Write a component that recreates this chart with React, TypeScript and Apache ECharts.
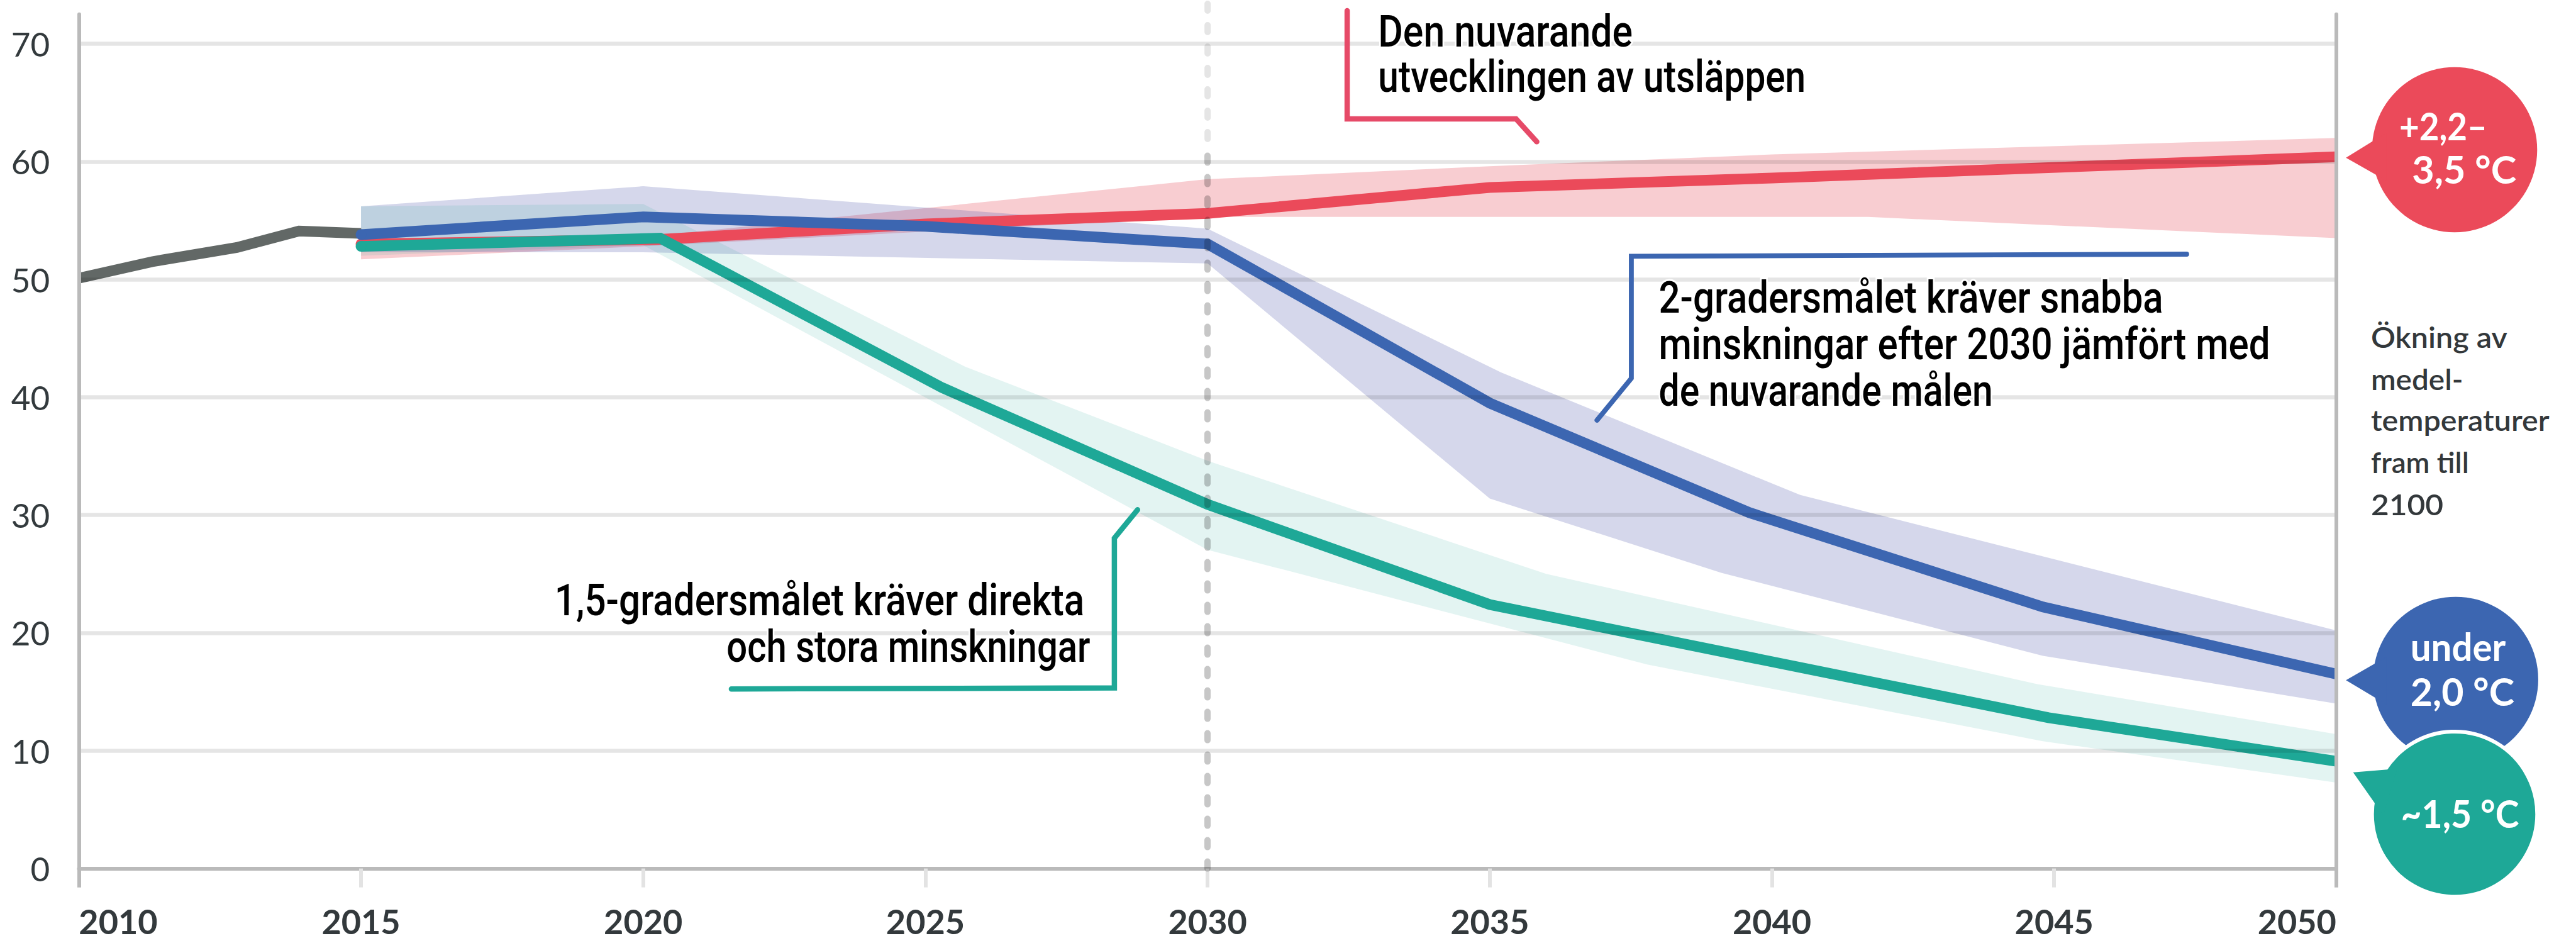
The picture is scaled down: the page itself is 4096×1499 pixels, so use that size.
import React, { useEffect, useRef } from "react";
import * as echarts from "echarts";

// ---------------- DATA ----------------
const histYears = [2010, 2011.3, 2012.8, 2013.9, 2015];
const histValues = [50.1, 51.5, 52.7, 54.1, 53.9];

const currentYears = [2015, 2020.3, 2025, 2030, 2035, 2040, 2050];
const currentValues = [53.0, 53.4, 54.7, 55.6, 57.8, 58.6, 60.4];
const currentUpperYears = [2015, 2020, 2030, 2035, 2040, 2050];
const currentUpperValues = [53.5, 53.6, 58.5, 59.6, 60.6, 62.0];
const currentLowerYears = [2015, 2020, 2030, 2041.7, 2050];
const currentLowerValues = [51.7, 52.8, 55.3, 55.3, 53.5];

const twoYears = [2015, 2020, 2025, 2030, 2035, 2039.6, 2044.8, 2050];
const twoValues = [53.8, 55.3, 54.5, 53.0, 39.5, 30.2, 22.2, 16.5];
const twoUpperYears = [2015, 2020, 2030, 2035.2, 2040.5, 2050];
const twoUpperValues = [56.2, 57.9, 54.3, 42.1, 31.7, 20.2];
const twoLowerYears = [2015, 2020, 2030, 2035, 2039.1, 2044.8, 2050];
const twoLowerValues = [52.3, 52.3, 51.35, 31.4, 25.1, 18.05, 14.0];

const oneFiveYears = [2015, 2020.3, 2025.3, 2030, 2035, 2044.9, 2050];
const oneFiveValues = [52.8, 53.5, 40.8, 30.9, 22.4, 12.8, 9.1];
const oneFiveUpperYears = [2015, 2020, 2025.7, 2030, 2036, 2044.7, 2050];
const oneFiveUpperValues = [56.2, 56.4, 42.6, 34.6, 25.0, 15.65, 11.4];
const oneFiveLowerYears = [2015, 2020, 2030, 2037.8, 2044.8, 2050];
const oneFiveLowerValues = [52.0, 52.9, 27.05, 17.3, 10.8, 7.3];

const yTickValues = [0, 10, 20, 30, 40, 50, 60, 70];
const xTickLabels = ["2010", "2015", "2020", "2025", "2030", "2035", "2040", "2045", "2050"];
const markerYear = 2030;

// ---------------- LAYOUT ----------------
const S = 0.847;
const W = 4096;
const H = 1499;
const Y_MAX = 72.5;
const REF_Y0 = 1630;
const REF_UNIT = (1630 - 82) / 70;

const zip = (xs: number[], ys: number[]) => xs.map((x, i) => [x, ys[i]]);
const sc = (p: number[]) => [p[0] * S, p[1] * S];

const ctx = document.createElement("canvas").getContext("2d")!;
const measure = (t: string, font: string) => {
  ctx.font = font;
  return ctx.measureText(t).width;
};

type TextSpec = { text: string; left: number; baseline: number; width?: number };
type FontSpec = { family: string; weight: string | number; size: number; fill: string; halo?: boolean };

function textEl(t: TextSpec, f: FontSpec) {
  const font = `${f.weight} ${f.size}px ${f.family}`;
  const natural = measure(t.text, font);
  const sx = t.width ? (t.width * S) / natural : 1;
  const off = f.family === "Lato" ? 0.387 : 0.342;
  return {
    type: "text",
    x: t.left * S,
    y: t.baseline * S - off * f.size,
    scaleX: sx,
    z: 100,
    silent: true,
    style: {
      text: t.text,
      fontFamily: f.family,
      fontWeight: f.weight,
      fontSize: f.size,
      fill: f.fill,
      align: "left",
      verticalAlign: "middle",
      stroke: f.halo ? "#ffffff" : undefined,
      lineWidth: f.halo ? 6 : 0,
    },
  };
}

const annFont: FontSpec = { family: "Roboto", weight: 500, size: 70, fill: "#000000", halo: true };
const bubbleFont: FontSpec = { family: "Lato", weight: "bold", size: 62, fill: "#ffffff" };
const sideFont: FontSpec = { family: "Lato", weight: 600, size: 47, fill: "#33383b" };

const annotations: TextSpec[] = [
  { text: "Den nuvarande", left: 2587, baseline: 87, width: 478 },
  { text: "utvecklingen av utsläppen", left: 2587, baseline: 172, width: 803 },
  { text: "2-gradersmålet kräver snabba", left: 3114, baseline: 587.6, width: 947 },
  { text: "minskningar efter 2030 jämfört med", left: 3114, baseline: 674.7, width: 1148 },
  { text: "de nuvarande målen", left: 3114, baseline: 761.8, width: 627 },
  { text: "1,5-gradersmålet kräver direkta", left: 1041, baseline: 1154.4, width: 995 },
  { text: "och stora minskningar", left: 1364, baseline: 1242, width: 683 },
];
const bubbleTexts: TextSpec[] = [
  { text: "+2,2–", left: 4504, baseline: 263, width: 165 },
  { text: "3,5 °C", left: 4528, baseline: 344, width: 196 },
  { text: "under", left: 4525, baseline: 1240.7, width: 179 },
  { text: "2,0 °C", left: 4525, baseline: 1325, width: 195 },
  { text: "~1,5 °C", left: 4507, baseline: 1554, width: 222 },
];
const sideTexts: TextSpec[] = [
  { text: "Ökning av", left: 4451, baseline: 653, width: 256 },
  { text: "medel-", left: 4451, baseline: 732, width: 173 },
  { text: "temperaturer", left: 4451, baseline: 809, width: 335 },
  { text: "fram till", left: 4451, baseline: 888, width: 184 },
  { text: "2100", left: 4451, baseline: 967, width: 136 },
];

const RED = "#eb4a5a";
const BLUE = "#3c66b1";
const TEAL = "#1ea897";
const GREY = "#626866";

function band(name: string, upper: number[][], lower: number[][], color: string) {
  return {
    type: "custom",
    name,
    coordinateSystem: "cartesian2d",
    xAxisIndex: 0,
    yAxisIndex: 0,
    z: 1,
    silent: true,
    data: [upper[0]],
    renderItem: (_params: any, api: any) => ({
      type: "polygon",
      shape: { points: [...upper, ...lower.slice().reverse()].map((p) => api.coord(p)) },
      style: { fill: color },
    }),
  };
}

function line(name: string, data: number[][], color: string, z: number, roundStart: boolean, extra: any = {}) {
  return {
    type: "line",
    name,
    data,
    z,
    silent: true,
    clip: true,
    lineStyle: { color, width: 17, cap: "butt", join: "miter" },
    itemStyle: { color },
    symbol: "circle",
    showSymbol: roundStart,
    showAllSymbol: true,
    symbolSize: (_v: any, p: any) => (p.dataIndex === 0 ? 17 : 0),
    emphasis: { disabled: true },
    ...extra,
  };
}

export default function App() {
  const ref = useRef<HTMLDivElement>(null);
  useEffect(() => {
    document.body.style.margin = "0";
    const chart = echarts.init(ref.current!, undefined, { renderer: "svg" });
    const gridTop = (REF_Y0 - Y_MAX * REF_UNIT) * S;
    const option: any = {
      animation: false,
      backgroundColor: "#ffffff",
      grid: {
        left: 148 * S,
        right: W - 4386 * S,
        top: gridTop,
        bottom: H - REF_Y0 * S,
        containLabel: false,
        outerBoundsMode: "none",
      },
      xAxis: [
        {
          type: "value",
          min: 2010,
          max: 2050,
          interval: 5,
          axisLine: { show: true, onZero: true, lineStyle: { color: "#bababa", width: 6 } },
          axisTick: { show: true, length: 30, lineStyle: { color: "#e3e3e3", width: 6 } },
          axisLabel: {
            show: true,
            margin: 62,
            color: "#33393c",
            fontFamily: "Lato",
            fontWeight: "bold",
            fontSize: 54,
            lineHeight: 44,
            alignMinLabel: "left",
            alignMaxLabel: "right",
            formatter: (v: number) => (xTickLabels.includes(String(v)) ? String(v) : ""),
          },
          splitLine: { show: false },
        },
        {
          type: "value",
          min: 2010,
          max: 2050,
          interval: 40,
          position: "bottom",
          z: 3,
          axisLine: { show: false },
          axisTick: { show: true, length: 30, lineStyle: { color: "#bababa", width: 6 } },
          axisLabel: { show: false },
          splitLine: { show: false },
        },
      ],
      yAxis: [
        {
          type: "value",
          min: 0,
          max: Y_MAX,
          interval: 10,
          z: 10,
          axisLine: { show: true, lineStyle: { color: "#bababa", width: 6 } },
          axisTick: { show: false },
          axisLabel: {
            show: true,
            margin: 46,
            color: "#333a3d",
            fontFamily: "Lato",
            fontSize: 53,
            showMaxLabel: false,
            formatter: (v: number) => (yTickValues.includes(v) ? String(v) : ""),
          },
          splitLine: {
            show: true,
            showMinLine: false,
            showMaxLine: false,
            lineStyle: { color: "rgba(0,0,0,0.1)", width: 6.5 },
          },
        },
        {
          type: "value",
          position: "right",
          min: 0,
          max: Y_MAX,
          interval: 10,
          z: 10,
          axisLine: { show: true, lineStyle: { color: "#bababa", width: 6 } },
          axisTick: { show: false },
          axisLabel: { show: false },
          splitLine: { show: false },
        },
      ],
      series: [
        band("Nuvarande (intervall)", zip(currentUpperYears, currentUpperValues), zip(currentLowerYears, currentLowerValues), "rgba(230,75,88,0.28)"),
        band("2 grader (intervall)", zip(twoUpperYears, twoUpperValues), zip(twoLowerYears, twoLowerValues), "rgba(60,70,160,0.215)"),
        band("1,5 grader (intervall)", zip(oneFiveUpperYears, oneFiveUpperValues), zip(oneFiveLowerYears, oneFiveLowerValues), "rgba(30,168,152,0.125)"),
        line("Historiska utsläpp", zip(histYears, histValues), GREY, 3, false),
        line("Nuvarande utveckling", zip(currentYears, currentValues), RED, 3, true),
        line("2 grader", zip(twoYears, twoValues), BLUE, 4, true),
        line("1,5 grader", zip(oneFiveYears, oneFiveValues), TEAL, 5, true, {
          markLine: {
            silent: true,
            z: 6,
            symbol: ["none", "none"],
            label: { show: false },
            emphasis: { disabled: true },
            lineStyle: { color: "rgba(0,0,0,0.22)", width: 10, type: [11, 23], cap: "round" },
            data: [[{ coord: [markerYear, 0] }, { coord: [markerYear, 61] }]],
          },
        }),
      ],
    };
    chart.setOption(option);

    const x2030 = chart.convertToPixel({ xAxisIndex: 0 }, markerYear) as number;
    const y61 = chart.convertToPixel({ yAxisIndex: 0 }, 61) as number;

    const poly = (pts: number[][], stroke: string, width: number) => ({
      type: "polyline",
      z: 90,
      silent: true,
      shape: { points: pts.map(sc) },
      style: { stroke, lineWidth: width, fill: null, lineCap: "round", lineJoin: "miter" },
    });

    const graphics: any[] = [
      {
        type: "line",
        z: 8,
        silent: true,
        shape: { x1: x2030, y1: 6, x2: x2030, y2: y61 },
        style: { stroke: "rgba(0,0,0,0.1)", lineWidth: 10, lineDash: [11, 23], lineCap: "round" },
      },
      poly([[2529, 20], [2529, 223], [2846, 223], [2885, 266]], "#e64a68", 8.5),
      poly([[4105, 477], [3062.5, 481], [3062.5, 710], [2998, 788.6]], BLUE, 7.8),
      poly([[1373, 1293], [2092, 1291], [2092, 1010], [2135.5, 956.7]], TEAL, 8.5),
      ...annotations.map((t) => textEl(t, annFont)),
      { type: "circle", z: 95, silent: true, shape: { cx: 4608 * S, cy: 281 * S, r: 155 * S }, style: { fill: RED } },
      { type: "polygon", z: 95, silent: true, shape: { points: [[4404, 296], [4480, 249], [4480, 339]].map(sc) }, style: { fill: RED } },
      { type: "circle", z: 95, silent: true, shape: { cx: 4610 * S, cy: 1275 * S, r: 155 * S }, style: { fill: BLUE } },
      { type: "polygon", z: 95, silent: true, shape: { points: [[4404, 1276.5], [4480, 1233], [4480, 1322]].map(sc) }, style: { fill: BLUE } },
      { type: "circle", z: 96, silent: true, shape: { cx: 4608 * S, cy: 1528 * S, r: 155 * S }, style: { fill: TEAL, stroke: "#ffffff", lineWidth: 6 } },
      { type: "polygon", z: 96, silent: true, shape: { points: [[4417.5, 1449.4], [4500, 1442.8], [4474, 1530]].map(sc) }, style: { fill: TEAL } },
      ...bubbleTexts.map((t) => textEl(t, bubbleFont)),
      ...sideTexts.map((t) => textEl(t, sideFont)),
    ];
    chart.setOption({ graphic: { elements: graphics } });

    return () => chart.dispose();
  }, []);
  return <div ref={ref} style={{ width: W, height: H }} />;
}
